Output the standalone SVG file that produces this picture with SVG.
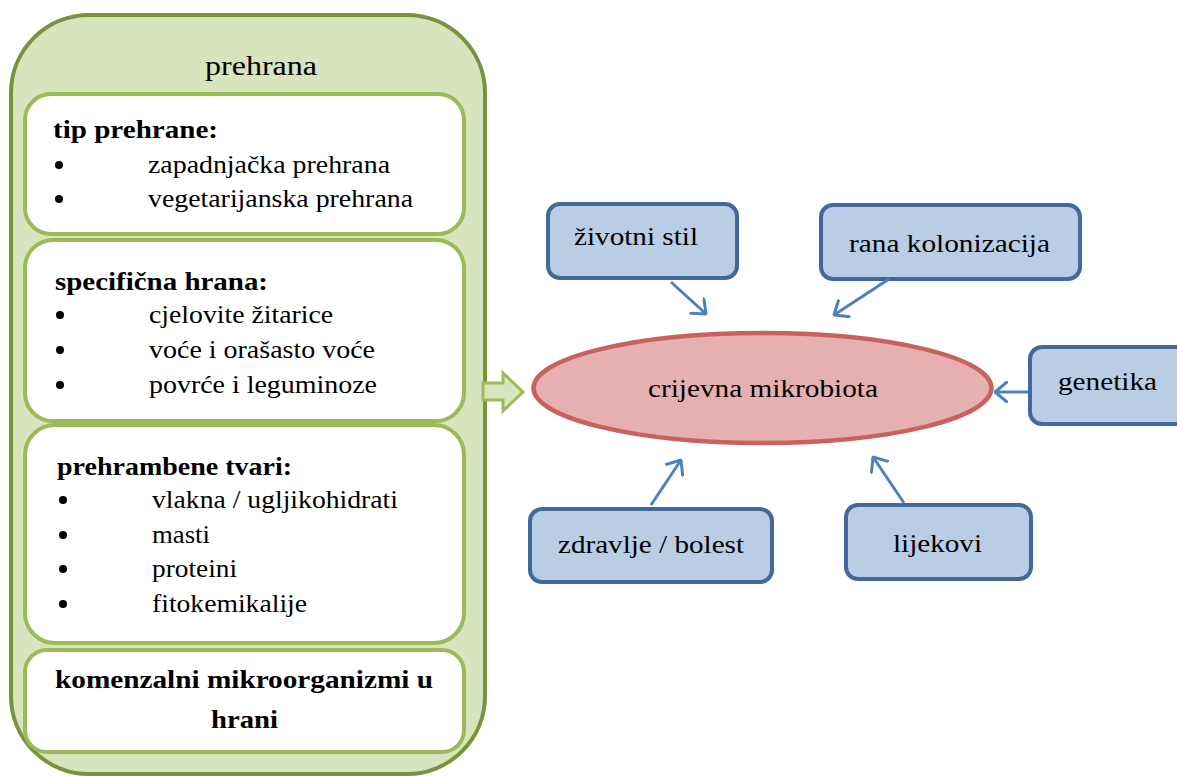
<svg xmlns="http://www.w3.org/2000/svg" width="1177" height="776" viewBox="0 0 1177 776">
<defs>
<style>
text{font-family:'Liberation Serif','Times New Roman',Times,serif;fill:#000}
.t{font-size:25px}
.b{font-size:26px;font-weight:bold}
.title{font-size:28px}
.inner{fill:#fff;stroke:#9BBB59;stroke-width:4}
.blue{fill:#B9CDE5;stroke:#41699B;stroke-width:4}
.con{stroke:#4F81BD;stroke-width:3;fill:none;marker-end:url(#ah)}
</style>
<marker id="ah" markerUnits="userSpaceOnUse" viewBox="0 0 14 22" refX="13" refY="11" markerWidth="14" markerHeight="22" orient="auto">
<path d="M1,1 L13,11 L1,21" fill="none" stroke="#4F81BD" stroke-width="3" stroke-linecap="round" stroke-linejoin="round"/>
</marker>
</defs>
<rect width="1177" height="776" fill="#fff"/>

<g id="prehrana">
<rect x="11" y="15" width="474" height="759" rx="78" fill="#D7E4BD" stroke="#77933C" stroke-width="4"/>
<text class="title" x="205" y="75" textLength="112" lengthAdjust="spacingAndGlyphs">prehrana</text>
</g>

<g id="tip-prehrane">
<rect class="inner" x="25" y="94" width="439" height="140" rx="26"/>
<rect x="136" y="89.5" width="221" height="2.5" fill="#D7E4BD"/>
<text class="b" x="53" y="138" textLength="165" lengthAdjust="spacingAndGlyphs">tip prehrane:</text>
<circle cx="59" cy="165" r="4"/>
<text class="t" x="148" y="173" textLength="242" lengthAdjust="spacingAndGlyphs">zapadnjačka prehrana</text>
<circle cx="59" cy="199" r="4"/>
<text class="t" x="148" y="207" textLength="265" lengthAdjust="spacingAndGlyphs">vegetarijanska prehrana</text>
</g>

<g id="specificna-hrana">
<rect class="inner" x="25" y="240" width="439" height="181" rx="28"/>
<text class="b" x="55" y="290" textLength="213" lengthAdjust="spacingAndGlyphs">specifična hrana:</text>
<circle cx="60" cy="315" r="4"/>
<text class="t" x="149" y="323" textLength="184" lengthAdjust="spacingAndGlyphs">cjelovite žitarice</text>
<circle cx="60" cy="350" r="4"/>
<text class="t" x="149" y="358" textLength="226" lengthAdjust="spacingAndGlyphs">voće i orašasto voće</text>
<circle cx="60" cy="385" r="4"/>
<text class="t" x="149" y="393" textLength="228" lengthAdjust="spacingAndGlyphs">povrće i leguminoze</text>
</g>

<g id="prehrambene-tvari">
<rect class="inner" x="25" y="425" width="439" height="218" rx="30"/>
<text class="b" x="57" y="475" textLength="235" lengthAdjust="spacingAndGlyphs">prehrambene tvari:</text>
<circle cx="63" cy="500" r="4"/>
<text class="t" x="152" y="508" textLength="246" lengthAdjust="spacingAndGlyphs">vlakna / ugljikohidrati</text>
<circle cx="63" cy="535" r="4"/>
<text class="t" x="152" y="543" textLength="58" lengthAdjust="spacingAndGlyphs">masti</text>
<circle cx="63" cy="569" r="4"/>
<text class="t" x="152" y="577" textLength="85" lengthAdjust="spacingAndGlyphs">proteini</text>
<circle cx="63" cy="604" r="4"/>
<text class="t" x="152" y="612" textLength="155" lengthAdjust="spacingAndGlyphs">fitokemikalije</text>
</g>

<g id="komenzalni">
<rect class="inner" x="25" y="650" width="439" height="102" rx="22"/>
<text class="b" x="55" y="688" textLength="378" lengthAdjust="spacingAndGlyphs">komenzalni mikroorganizmi u</text>
<text class="b" x="211" y="728" textLength="67" lengthAdjust="spacingAndGlyphs">hrani</text>
</g>

<g id="green-arrow">
<polygon points="483,383 503,383 503,373 523,392 503,411 503,400 483,400" fill="#D7E4BD" stroke="#9BBB59" stroke-width="3" stroke-linejoin="miter"/>
</g>

<g id="crijevna-mikrobiota">
<ellipse cx="762.5" cy="388" rx="229" ry="55" fill="#E5B0AF" stroke="#C9625F" stroke-width="4.5"/>
<text class="t" x="648" y="397" textLength="230" lengthAdjust="spacingAndGlyphs">crijevna mikrobiota</text>
</g>

<g id="zivotni-stil">
<rect class="blue" x="548" y="204" width="189" height="74" rx="12"/>
<text class="t" x="574" y="245" textLength="124" lengthAdjust="spacingAndGlyphs">životni stil</text>
</g>

<g id="rana-kolonizacija">
<rect class="blue" x="821" y="205" width="259" height="74" rx="12"/>
<text class="t" x="849" y="252" textLength="201" lengthAdjust="spacingAndGlyphs">rana kolonizacija</text>
</g>

<g id="genetika">
<rect class="blue" x="1030" y="347" width="170" height="77" rx="12"/>
<text class="t" x="1058" y="390" textLength="99" lengthAdjust="spacingAndGlyphs">genetika</text>
</g>

<g id="zdravlje-bolest">
<rect class="blue" x="530" y="509" width="242" height="73" rx="12"/>
<text class="t" x="558" y="553" textLength="186" lengthAdjust="spacingAndGlyphs">zdravlje / bolest</text>
</g>

<g id="lijekovi">
<rect class="blue" x="846" y="505" width="185" height="74" rx="12"/>
<text class="t" x="893" y="552" textLength="89" lengthAdjust="spacingAndGlyphs">lijekovi</text>
</g>

<g id="connectors">
<line class="con" x1="671" y1="282" x2="706" y2="314"/>
<line class="con" x1="889" y1="279" x2="834" y2="315"/>
<line class="con" x1="1028" y1="392" x2="995" y2="392"/>
<line class="con" x1="651" y1="505" x2="681" y2="460"/>
<line class="con" x1="904" y1="503" x2="873" y2="457"/>
</g>
</svg>
